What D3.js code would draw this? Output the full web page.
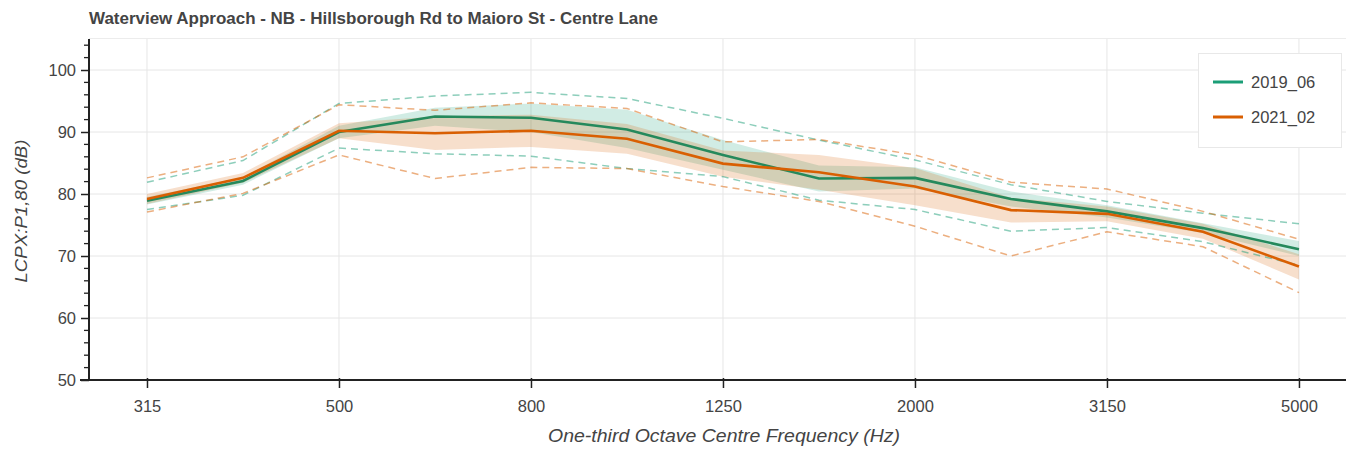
<!DOCTYPE html>
<html><head><meta charset="utf-8">
<script src="https://cdn.jsdelivr.net/npm/d3@7"></script>
<style>
html,body{margin:0;padding:0;background:#fff;}
svg{display:block;font-family:"Liberation Sans",Arial,Helvetica,sans-serif;}
</style></head><body>
<svg id="chart" width="1346" height="449"></svg>
<script>
// ---- data ----
const freqs = [315, 400, 500, 630, 800, 1000, 1250, 1600, 2000, 2500, 3150, 4000, 5000];
const tickFreqs = ["315", "500", "800", "1250", "2000", "3150", "5000"];
const yTicks = [50, 60, 70, 80, 90, 100];
const seriesNames = ["2019_06", "2021_02"];

const mean2019 = [78.9, 82.1, 90.0, 92.5, 92.3, 90.4, 86.3, 82.5, 82.6, 79.2, 77.2, 74.5, 71.1];
const bandLo2019 = [78.3, 81.5, 89.0, 91.0, 90.0, 87.4, 83.9, 80.4, 80.9, 78.0, 76.2, 73.7, 70.0];
const bandHi2019 = [79.5, 82.7, 91.0, 93.9, 94.6, 93.6, 88.7, 84.6, 84.3, 80.4, 78.2, 75.3, 72.4];
const min2019 = [77.5, 79.8, 87.4, 86.5, 86.1, 84.1, 82.8, 79.0, 77.5, 74.0, 74.6, 72.3, 68.5];
const max2019 = [81.9, 85.4, 94.6, 95.8, 96.4, 95.4, 92.2, 88.7, 85.5, 81.5, 78.8, 76.9, 75.2];

const mean2021 = [79.2, 82.6, 90.2, 89.8, 90.2, 88.9, 84.9, 83.5, 81.2, 77.4, 76.8, 73.9, 68.3];
const bandLo2021 = [78.4, 81.8, 89.0, 87.1, 87.6, 86.5, 82.8, 80.7, 78.2, 75.4, 75.6, 72.8, 66.2];
const bandHi2021 = [80.0, 83.4, 91.4, 92.5, 92.8, 91.3, 87.0, 86.3, 84.2, 79.4, 78.0, 75.2, 70.3];
const min2021 = [77.1, 80.1, 86.3, 82.5, 84.3, 84.1, 81.2, 78.8, 74.8, 70.0, 73.9, 71.5, 64.1];
const max2021 = [82.6, 86.0, 94.4, 93.5, 94.7, 93.8, 88.4, 88.8, 86.3, 81.9, 80.8, 77.2, 72.7];

const colors = ["#1b9e77", "#d95f02"];
const lineColors = ["#25895c", "#d95f02"];

(function () {
const svg = d3.select("#chart");
const pL = 89, pR = 1346, pT = 39, pB = 380;

const x = d3.scaleLinear().domain([-0.604, 12.49]).range([pL, pR]);
const y = d3.scaleLinear().domain([50, 105]).range([pB, pT]);

// grid
const g = svg.append("g");
g.selectAll("line.hg").data(yTicks).enter().append("line")
  .attr("x1", pL).attr("x2", pR).attr("y1", d => y(d)).attr("y2", d => y(d))
  .attr("stroke", "#e6e6e6").attr("stroke-width", 1);
g.selectAll("line.vg").data(tickFreqs).enter().append("line")
  .attr("x1", d => x(freqs.indexOf(+d))).attr("x2", d => x(freqs.indexOf(+d)))
  .attr("y1", pT).attr("y2", pB)
  .attr("stroke", "#e6e6e6").attr("stroke-width", 1);
g.append("line").attr("x1", pL).attr("x2", pR).attr("y1", pT - 0.5).attr("y2", pT - 0.5)
  .attr("stroke", "#ececec");

const series = [
  {mean: mean2019, lo: bandLo2019, hi: bandHi2019, mn: min2019, mx: max2019},
  {mean: mean2021, lo: bandLo2021, hi: bandHi2021, mn: min2021, mx: max2021}
];

const area = d3.area().x((d, i) => x(i)).y0(d => y(d[0])).y1(d => y(d[1]));
const line = d3.line().x((d, i) => x(i)).y(d => y(d));

series.forEach((s, k) => {
  svg.append("path")
    .datum(s.lo.map((v, i) => [v, s.hi[i]]))
    .attr("d", area)
    .attr("fill", colors[k]).attr("fill-opacity", 0.2);
});
series.forEach((s, k) => {
  [s.mn, s.mx].forEach(arr => {
    svg.append("path").datum(arr).attr("d", line)
      .attr("fill", "none").attr("stroke", colors[k]).attr("stroke-opacity", 0.5)
      .attr("stroke-width", 1.5).attr("stroke-dasharray", "7,5");
  });
});
series.forEach((s, k) => {
  svg.append("path").datum(s.mean).attr("d", line)
    .attr("fill", "none").attr("stroke", lineColors[k]).attr("stroke-width", 2.6);
});

// axes
const xAxis = d3.axisBottom(x)
  .tickValues(tickFreqs.map(f => freqs.indexOf(+f)))
  .tickFormat(i => String(freqs[i]))
  .tickSizeInner(8).tickSizeOuter(0).tickPadding(12);
const xa = svg.append("g").attr("transform", `translate(0,${pB})`).call(xAxis);
xa.select(".domain").attr("stroke", "#222").attr("stroke-width", 2).attr("d", `M${pL - 9},0H${pR}`);
xa.selectAll(".tick line").attr("stroke", "#222").attr("stroke-width", 1.5).attr("y1", -2);
xa.selectAll(".tick text").attr("fill", "#444").attr("font-size", 16.5);

const yMinor = d3.range(50, 105.1, 2).filter(v => v % 10 !== 0);
const ya = svg.append("g").attr("transform", `translate(${pL},0)`);
ya.call(d3.axisLeft(y).tickValues(yTicks).tickSizeInner(8).tickSizeOuter(0).tickPadding(5));
ya.select(".domain").attr("stroke", "#222").attr("stroke-width", 2).attr("d", `M0,${pT}V${pB}`);
ya.selectAll(".tick line").attr("stroke", "#222").attr("stroke-width", 1.5);
ya.selectAll(".tick text").attr("fill", "#444").attr("font-size", 16.5);
ya.selectAll("line.minor").data(yMinor).enter().append("line")
  .attr("class", "minor").attr("x1", -5).attr("x2", 0)
  .attr("y1", d => y(d)).attr("y2", d => y(d))
  .attr("stroke", "#222").attr("stroke-width", 1.3);

svg.append("text").attr("x", 724).attr("y", 442).attr("text-anchor", "middle")
  .attr("font-size", 17.5).attr("font-style", "italic").attr("fill", "#444")
  .attr("textLength", 352).attr("lengthAdjust", "spacingAndGlyphs")
  .text("One-third Octave Centre Frequency (Hz)");
svg.append("text").attr("transform", `translate(27,211) rotate(-90)`)
  .attr("text-anchor", "middle").attr("font-size", 17).attr("font-style", "italic").attr("fill", "#444")
  .attr("textLength", 143).attr("lengthAdjust", "spacingAndGlyphs")
  .text("LCPX:P1,80 (dB)");

svg.append("text").attr("x", 89).attr("y", 24).attr("font-size", 16).attr("font-weight", "bold")
  .attr("fill", "#444").attr("textLength", 569).attr("lengthAdjust", "spacingAndGlyphs")
  .text("Waterview Approach - NB - Hillsborough Rd to Maioro St - Centre Lane");

const lg = svg.append("g");
lg.append("rect").attr("x", 1198.5).attr("y", 53.5).attr("width", 143).attr("height", 94)
  .attr("fill", "#fff").attr("stroke", "#e8e8e8").attr("stroke-width", 1);
seriesNames.forEach((name, k) => {
  const yy = 82 + k * 35;
  lg.append("line").attr("x1", 1213).attr("x2", 1243).attr("y1", yy).attr("y2", yy)
    .attr("stroke", colors[k]).attr("stroke-width", 3);
  lg.append("text").attr("x", 1251).attr("y", yy + 6).attr("font-size", 16.5).attr("fill", "#444").text(name);
});
})();
</script>
</body></html>
